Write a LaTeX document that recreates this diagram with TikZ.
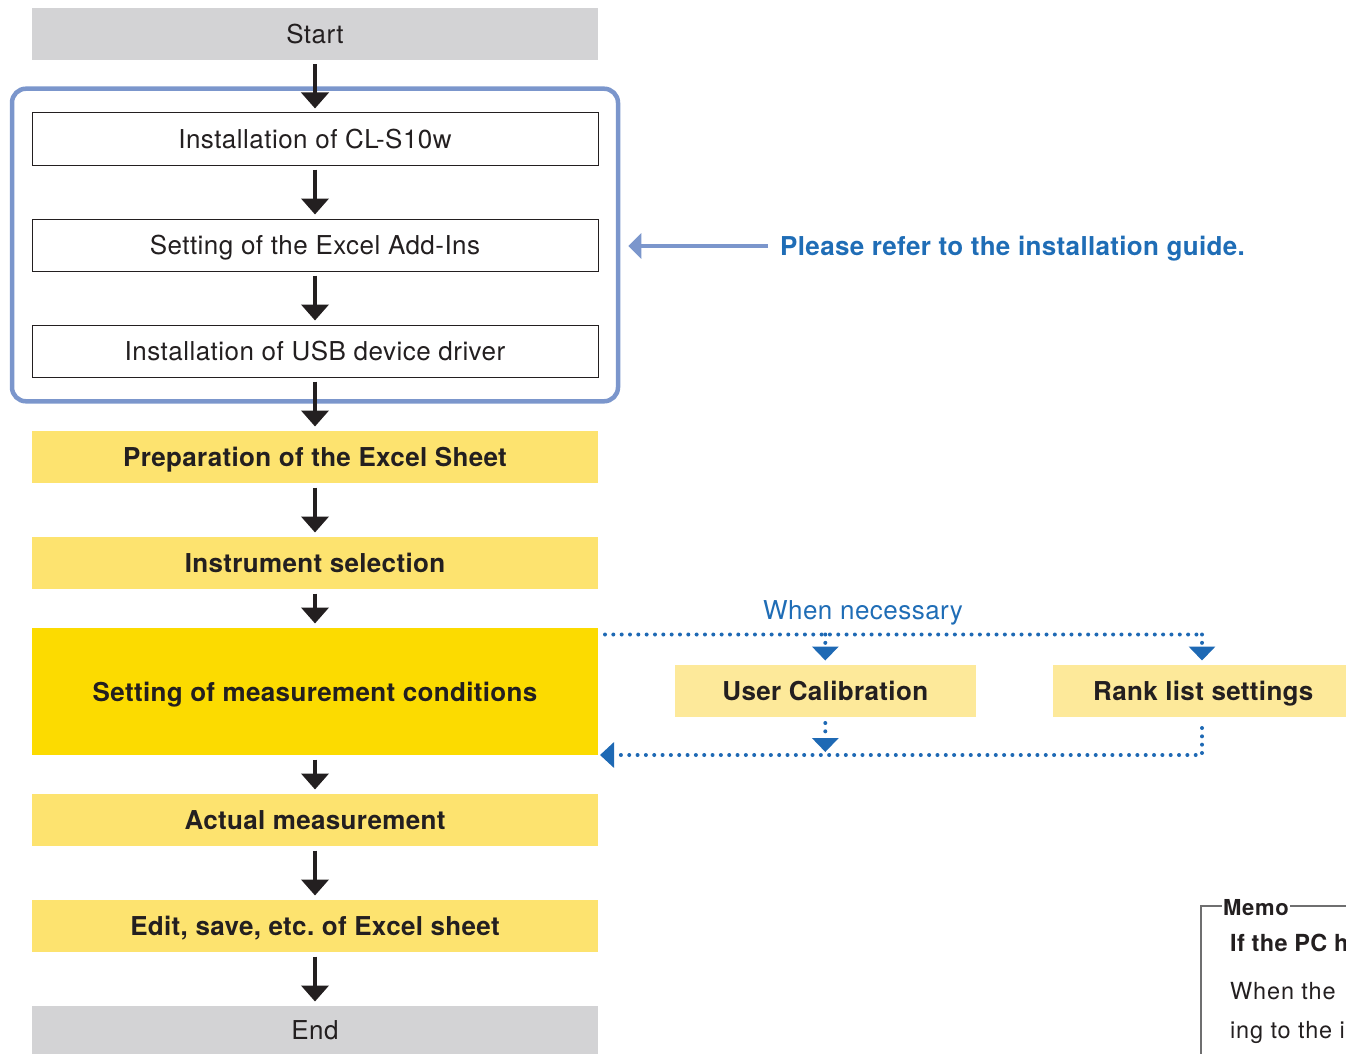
\documentclass[tikz,border=0pt]{standalone}
\usepackage{fontspec}
\setmainfont{TeX Gyre Heros}[LetterSpace=1.8, BoldFeatures={LetterSpace=1.3}]
\newfontfamily\memofont{TeX Gyre Heros}[LetterSpace=3.5, BoldFeatures={LetterSpace=3.0}]
\usetikzlibrary{arrows.meta,fit}
\frenchspacing
\definecolor{txt}{HTML}{231F20}
\definecolor{grayfill}{HTML}{D3D3D5}
\definecolor{yel}{HTML}{FDE36F}
\definecolor{yelstrong}{HTML}{FCDB00}
\definecolor{yellight}{HTML}{FDE99A}
\definecolor{frameblue}{HTML}{7B96CC}
\definecolor{textblue}{HTML}{1F6DB6}
\definecolor{dotblue}{HTML}{1E69B4}
\definecolor{memogray}{HTML}{6F6F70}
\tikzset{
  box/.style={minimum width=566pt, minimum height=52pt, inner sep=0pt, outer sep=0pt,
    text=txt, text height=19pt, text depth=0pt, font=\fontsize{26}{30}\selectfont},
  whitebox/.style={box, draw=txt, line width=1pt, fill=white},
  graybox/.style={box, fill=grayfill},
  ybox/.style={box, fill=yel, font=\fontsize{26}{30}\selectfont\bfseries},
  flow/.style={draw=txt, line width=4pt, -{Triangle[width=27pt,length=16pt]},
    shorten <=4.5pt, shorten >=4.5pt},
  dots/.style={draw=dotblue, line width=4pt, line cap=round, dash pattern=on 0pt off 8.33pt},
  downtip/.style={-{Triangle[width=26pt,length=14pt]}},
  lefttip/.style={-{Triangle[width=25pt,length=14pt]}},
  bluetext/.style={text=textblue, inner sep=0pt, text height=19pt, text depth=0pt},
  memotext/.style={anchor=base west, inner sep=0pt, text=txt}
}
\begin{document}
\begin{tikzpicture}[x=1pt,y=-1pt]
\useasboundingbox (0,0) rectangle (1346,1054);
\clip (0,0) rectangle (1346,1054);

% main column
\node[graybox, minimum height=52pt] (start) at (315,34) {Start};
\node[whitebox] (box1) at (315,139) {Installation of CL-S10w};
\node[whitebox] (box2) at (315,245) {Setting of the Excel Add-Ins};
\node[whitebox] (box3) at (315,351) {Installation of USB device driver};
\node[ybox] (prep) at (315,457) {Preparation of the Excel Sheet};
\node[ybox] (instr) at (315,563) {Instrument selection};
\node[ybox, fill=yelstrong, minimum height=127pt] (setting) at (315,691.5) {Setting of measurement conditions};
\node[ybox] (actual) at (315,820) {Actual measurement};
\node[ybox] (edit) at (315,926) {Edit, save, etc. of Excel sheet};
\node[graybox, minimum height=48pt] (end) at (315,1030) {End};

% installation frame
\node[fit=(box1)(box3), draw=frameblue, line width=4.5pt, rounded corners=14pt,
      inner xsep=20pt, inner ysep=24.3pt] (frame) {};

% flow arrows
\draw[flow] (start) -- (box1);
\draw[flow] (box1) -- (box2);
\draw[flow] (box2) -- (box3);
\draw[flow] (box3) -- (prep);
\draw[flow] (prep) -- (instr);
\draw[flow] (instr) -- (setting);
\draw[flow] (setting) -- (actual);
\draw[flow] (actual) -- (edit);
\draw[flow] (edit) -- (end);

% installation guide note
\node[bluetext, anchor=west, font=\fontsize{26}{30}\selectfont\bfseries] (guide) at (780,246)
  {Please refer to the installation guide.};
\draw[draw=frameblue, line width=3.5pt, -{Triangle[width=25pt,length=13pt]},
      shorten <=12pt, shorten >=8pt] (guide.west) -- (guide.west -| frame.east);

% optional steps
\node[bluetext, font=\fontsize{26}{30}\selectfont] (when) at (863,610) {When necessary};
\node[box, fill=yellight, minimum width=301.5pt, font=\fontsize{26}{30}\selectfont\bfseries] (calib) at (825.3,691) {User Calibration};
\node[box, fill=yellight, minimum width=301.5pt, font=\fontsize{26}{30}\selectfont\bfseries] (rank) at (1203.3,691) {Rank list settings};

\coordinate (tl) at (605,634.5);
\coordinate (tr) at (1202,634.5);
\coordinate (br) at (1202,755);

\draw[dots] (tl) -- (tr);
\draw[dots, downtip, shorten >=4.5pt] (tl -| calib.north) -- (calib.north);
\draw[dots, downtip, shorten >=4.5pt] (tr) -- (tr |- rank.north);
\draw[dots, downtip, shorten <=6pt, shorten >=3pt] (calib.south) -- (calib.south |- br);
\draw[dots, lefttip, shorten <=11pt, shorten >=2pt] (tr |- rank.south) -- (br) -- (setting.east |- br);

% memo
\coordinate (mc) at (1201,906);
\node[memotext, font=\memofont\fontsize{22}{26}\selectfont\bfseries] (memo) at (1223,915) {Memo};
\draw[draw=memogray, line width=1.5pt] ([xshift=-1pt]memo.west |- mc) -- (mc) -- (1201,1054);
\draw[draw=memogray, line width=1.5pt] ([xshift=1pt]memo.east |- mc) -- (1346,906);
\node[memotext, font=\fontsize{23.5}{28}\selectfont\bfseries] (memoh) at (1230,951.5) {If the PC h};
\node[memotext, font=\memofont\fontsize{23.5}{28}\selectfont] (memo1) at (1230,999.5) {When the};
\node[memotext, font=\memofont\fontsize{23.5}{28}\selectfont] (memo2) at (1230,1038.5) {ing to the i};
\end{tikzpicture}
\end{document}
